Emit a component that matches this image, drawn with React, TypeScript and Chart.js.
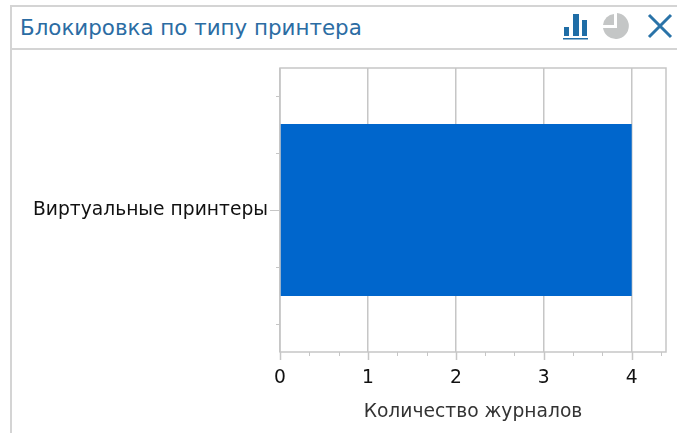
import React, { useEffect, useRef } from "react";
import { Chart, registerables } from "chart.js";

Chart.register(...registerables);

const titleText = "Блокировка по типу принтера";
const categories = ["Виртуальные принтеры"];
const logCounts = [4];
const axisTitle = "Количество журналов";
const axisMax = 4.39;
const minorStep = 1 / 3;
const categoryMinorOffsets = [-0.4, -0.2, 0.2, 0.4];

const GRID = "#c6c6c6";
const FONT = '"DejaVu Sans", Tahoma, sans-serif';

// Plot frame plus the long and short tick marks on both axes.
const frameAndTicks = {
  id: "frameAndTicks",
  beforeDatasetsDraw(chart: any) {
    const { ctx, chartArea: a, scales } = chart;
    ctx.save();
    ctx.strokeStyle = GRID;
    ctx.lineWidth = 1.5;
    ctx.strokeRect(a.left, a.top, a.right - a.left, a.bottom - a.top);
    ctx.lineWidth = 1;
    const x = scales.x;
    const steps = Math.floor(axisMax / minorStep + 0.001);
    for (let i = 0; i <= steps; i++) {
      const px = Math.round(x.getPixelForValue(i * minorStep)) + 0.5;
      const major = i % 3 === 0;
      ctx.lineWidth = major ? 1.5 : 1;
      ctx.beginPath();
      ctx.moveTo(px, a.bottom);
      ctx.lineTo(px, a.bottom + (major ? 8 : 4));
      ctx.stroke();
    }
    const h = a.bottom - a.top;
    const mid = scales.y.getPixelForValue(0);
    ctx.lineWidth = 1;
    ctx.beginPath();
    ctx.moveTo(a.left - 10, mid + 0.5);
    ctx.lineTo(a.left, mid + 0.5);
    categoryMinorOffsets.forEach((f) => {
      const py = Math.round(mid + f * h) + 0.5;
      ctx.moveTo(a.left - 4, py);
      ctx.lineTo(a.left, py);
    });
    ctx.stroke();
    ctx.restore();
  },
};

export default function App() {
  const ref = useRef<HTMLCanvasElement>(null);

  useEffect(() => {
    const chart = new Chart(ref.current!, {
      type: "bar",
      data: {
        labels: categories,
        datasets: [
          {
            data: logCounts,
            backgroundColor: "#0066cc",
            borderWidth: 0,
            barPercentage: 0.606,
            categoryPercentage: 1,
          },
        ],
      },
      options: {
        indexAxis: "y",
        animation: false,
        responsive: false,
        layout: { padding: { top: 68, right: 11, left: 0, bottom: 0 } },
        plugins: { legend: { display: false }, tooltip: { enabled: false } },
        scales: {
          x: {
            type: "linear",
            min: 0,
            max: axisMax,
            afterFit: (s: any) => {
              s.height = 81;
            },
            grid: { color: GRID, lineWidth: 1.5, drawTicks: false },
            border: { display: false },
            ticks: {
              stepSize: 1,
              includeBounds: false,
              maxRotation: 0,
              padding: 15,
              color: "#111111",
              font: { family: FONT, size: 18.7 },
            },
            title: {
              display: true,
              text: axisTitle,
              color: "#333333",
              font: { family: FONT, size: 18.7 },
              padding: { top: 0, bottom: 10 },
            },
          },
          y: {
            type: "category",
            afterFit: (s: any) => {
              s.width = 280;
            },
            grid: { display: false, drawTicks: false },
            border: { display: false },
            ticks: {
              padding: 12,
              color: "#111111",
              font: { family: FONT, size: 18.7 },
            },
          },
        },
      },
      plugins: [frameAndTicks],
    } as any);
    return () => chart.destroy();
  }, []);

  const rule = "#d4d4d4";
  return (
    <div style={{ position: "absolute", left: 0, top: 0, width: 677, height: 433, background: "#fff", overflow: "hidden" }}>
      <div style={{ position: "absolute", left: 10, top: 5, width: 2, height: 428, background: rule }} />
      <div style={{ position: "absolute", left: 10, top: 5, width: 667, height: 2, background: rule }} />
      <div style={{ position: "absolute", left: 10, top: 48, width: 667, height: 2, background: rule }} />
      <div style={{ position: "absolute", left: 20, top: 15, color: "#2b6ca3", font: `21.4px ${FONT}`, whiteSpace: "nowrap" }}>
        {titleText}
      </div>
      <canvas ref={ref} width={677} height={433} style={{ position: "absolute", left: 0, top: 0, display: "block" }} />
      <svg width={677} height={50} style={{ position: "absolute", left: 0, top: 0 }}>
        <g fill="#1f6da6">
          <rect x={564} y={27} width={5} height={9} />
          <rect x={573} y={14} width={6} height={22} />
          <rect x={582} y={20} width={5} height={16} />
          <rect x={563} y={38} width={25} height={1.5} />
        </g>
        <g fill="#c4c6c6">
          <path d="M617 13 A13 13 0 1 1 603 28 L617 28 Z" />
          <path d="M614 14 A12 12 0 0 0 603 25 L614 25 Z" />
        </g>
        <path d="M649 15 L671 37 M671 15 L649 37" stroke="#2a73a8" strokeWidth={3} fill="none" />
      </svg>
    </div>
  );
}
